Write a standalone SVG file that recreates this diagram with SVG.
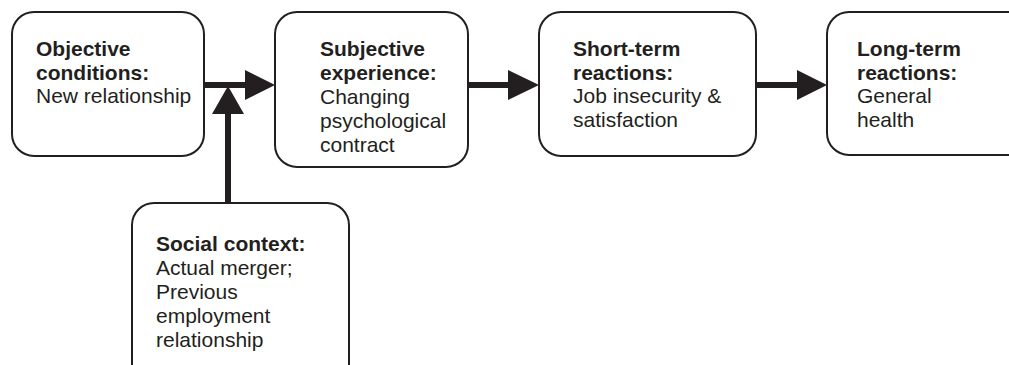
<svg xmlns="http://www.w3.org/2000/svg" width="1009" height="365" viewBox="0 0 1009 365">
<style>
.box{fill:#fff;stroke:#231f20;stroke-width:2}
text{font-family:"Liberation Sans",Arial,sans-serif;font-size:21px;fill:#231f20}
.b{font-weight:bold}
.ln{stroke:#231f20;stroke-width:6;fill:none}
.ah{fill:#231f20}
</style>
<g id="connectors">
<line class="ln" x1="204" y1="85" x2="246" y2="85"/>
<polygon class="ah" points="245,70 275,85 245,100"/>
<line class="ln" x1="228" y1="203" x2="228" y2="112"/>
<polygon class="ah" points="212,114 228,86 244,114"/>
<line class="ln" x1="468" y1="85" x2="510" y2="85"/>
<polygon class="ah" points="508,70 539,85 508,100"/>
<line class="ln" x1="756" y1="85" x2="798" y2="85"/>
<polygon class="ah" points="797,70 827,85 797,100"/>
</g>
<g id="objective">
<rect class="box" x="12" y="12" width="192" height="144" rx="22"/>
<text x="36" y="56"><tspan class="b">Objective</tspan><tspan class="b" x="36" dy="23.5">conditions:</tspan><tspan x="36" dy="23.5">New relationship</tspan></text>
</g>
<g id="subjective">
<rect class="box" x="275" y="12" width="193" height="155" rx="22"/>
<text x="320" y="56"><tspan class="b">Subjective</tspan><tspan class="b" x="320" dy="24">experience:</tspan><tspan x="320" dy="24">Changing</tspan><tspan x="320" dy="24">psychological</tspan><tspan x="320" dy="24">contract</tspan></text>
</g>
<g id="shortterm">
<rect class="box" x="539" y="12" width="217" height="144" rx="22"/>
<text x="573" y="56"><tspan class="b">Short-term</tspan><tspan class="b" x="573" dy="23.5">reactions:</tspan><tspan x="573" dy="23.5">Job insecurity &amp;</tspan><tspan x="573" dy="23.5">satisfaction</tspan></text>
</g>
<g id="longterm">
<rect class="box" x="827" y="12" width="210" height="143" rx="22"/>
<text x="857" y="56"><tspan class="b">Long-term</tspan><tspan class="b" x="857" dy="23.5">reactions:</tspan><tspan x="857" dy="23.5">General</tspan><tspan x="857" dy="23.5">health</tspan></text>
</g>
<g id="social">
<rect class="box" x="132" y="203" width="217" height="190" rx="22"/>
<text x="156" y="251"><tspan class="b">Social context:</tspan><tspan x="156" dy="24">Actual merger;</tspan><tspan x="156" dy="24">Previous</tspan><tspan x="156" dy="24">employment</tspan><tspan x="156" dy="24">relationship</tspan></text>
</g>
</svg>
